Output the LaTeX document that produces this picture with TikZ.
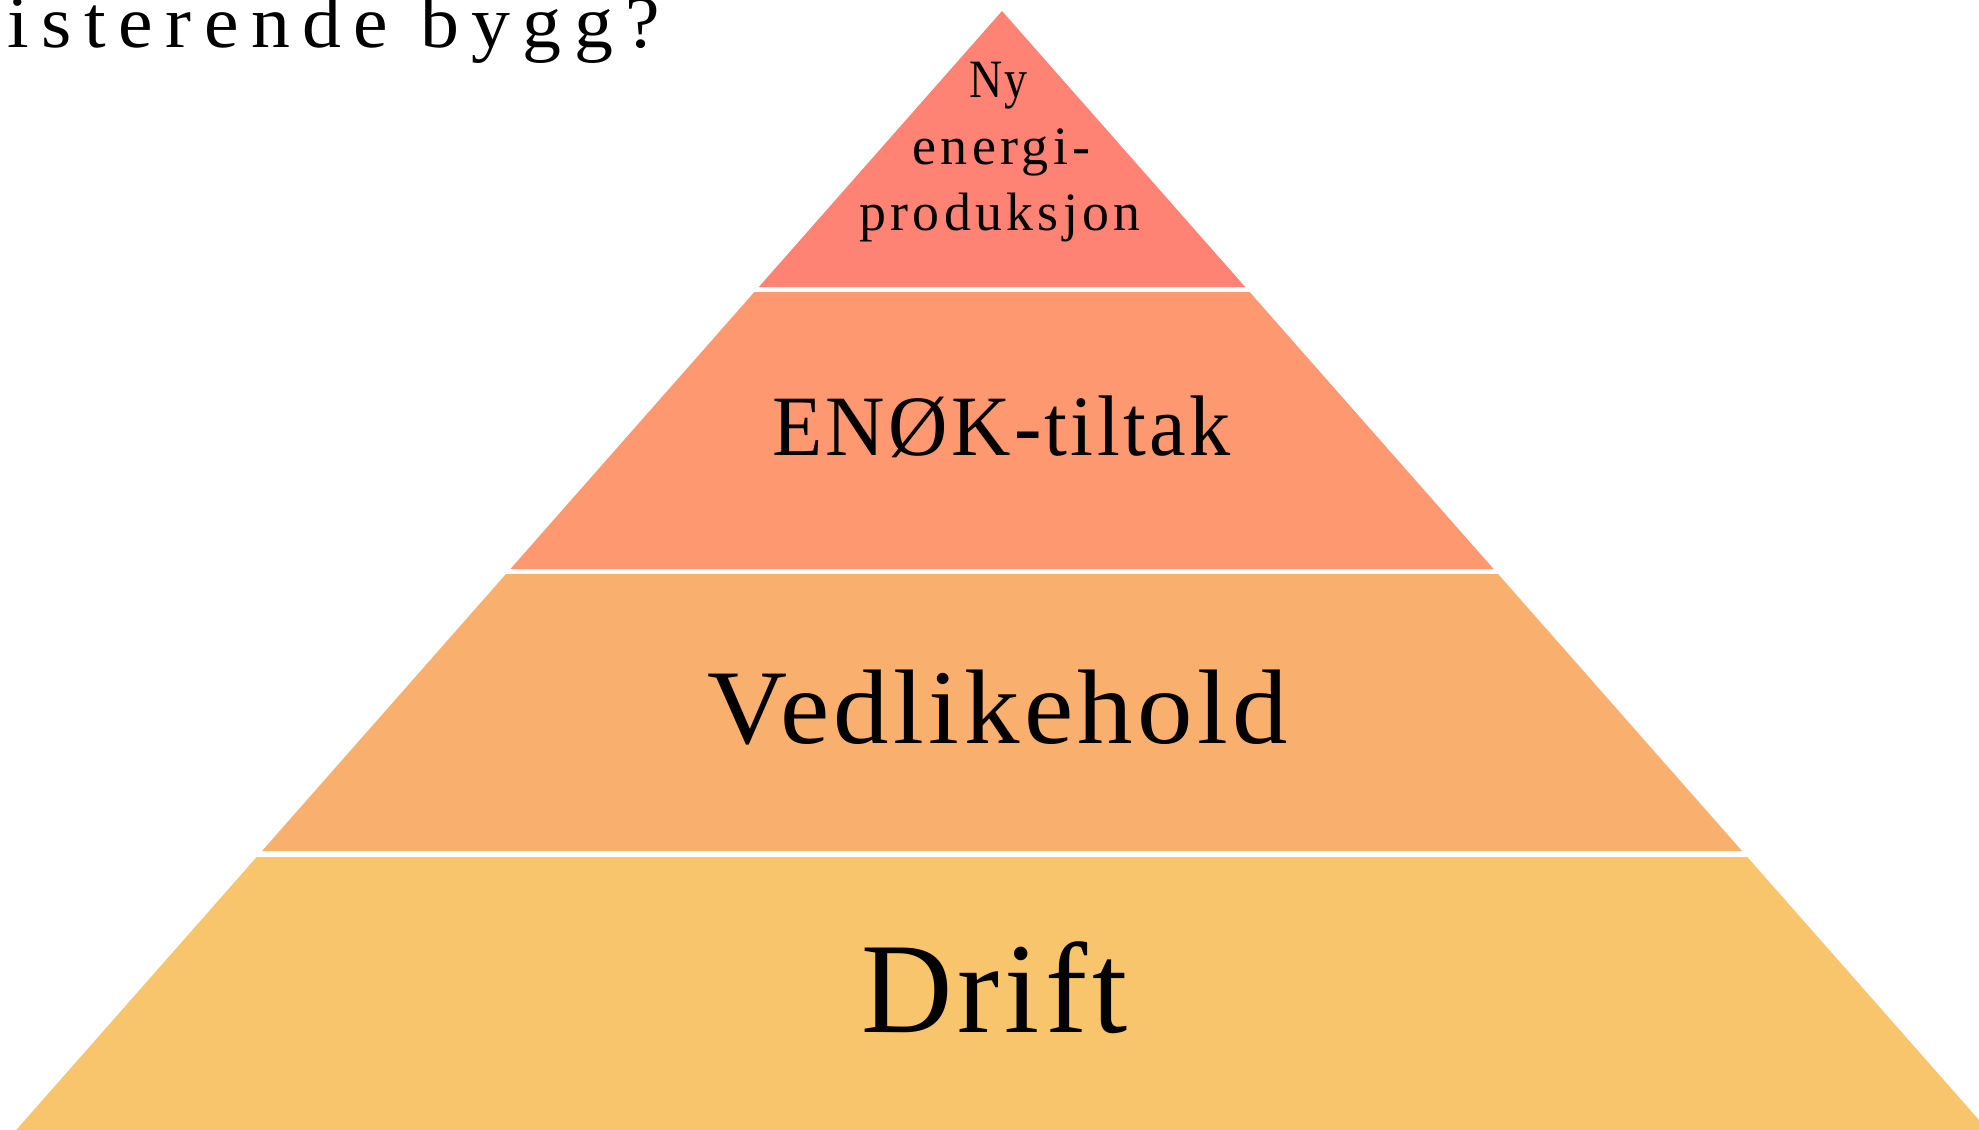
\documentclass[tikz,border=0pt]{standalone}
\usepackage{fontspec}
\usepackage{graphicx}
\setmainfont{Liberation Serif}
\newfontfamily\lsS[LetterSpace=4]{Liberation Serif}
\newfontfamily\lsM[LetterSpace=8]{Liberation Serif}
\newfontfamily\lsL[LetterSpace=12]{Liberation Serif}
\newfontfamily\lsXL[LetterSpace=16]{Liberation Serif}
\definecolor{cA}{RGB}{255,131,116}
\definecolor{cB}{RGB}{253,152,112}
\definecolor{cC}{RGB}{249,175,109}
\definecolor{cD}{RGB}{248,197,108}
\newcommand{\fitw}[3]{\resizebox{#1}{\height}{\fontsize{#2}{#2}\selectfont #3}}
\begin{document}
\begin{tikzpicture}[x=1pt,y=-1pt,
  lbl/.style={anchor=base, inner sep=0pt, outer sep=0pt, text=black}]
\useasboundingbox (0,0) rectangle (1979,1130);
\clip (0,0) rectangle (1979,1130);
\fill[white] (0,0) rectangle (1979,1130);
% pyramid layers
\fill[cA] (1002,11) -- (1245.2,287) -- (758.8,287) -- cycle;
\fill[cB] (754.4,292) -- (1249.6,292) -- (1493.6,569) -- (510.4,569) -- cycle;
\fill[cC] (506,574) -- (1498,574) -- (1742,851) -- (262,851) -- cycle;
\fill[cD] (256.7,857) -- (1747.3,857) -- (1987.8,1130) -- (16.2,1130) -- cycle;
% labels
\node[lbl] (ny) at (998.5,97) {\fitw{58pt}{54pt}{\lsS Ny}};
\node[lbl] (energi) at (1001.5,164) {\fitw{178pt}{54pt}{\lsM energi-}};
\node[lbl] (produksjon) at (1000,230) {\fitw{281pt}{54pt}{\lsM produksjon}};
\node[lbl] (enok) at (1001.5,455) {\fitw{458pt}{86pt}{\lsS ENØK-tiltak}};
\node[lbl] (vedlikehold) at (998,743) {\fitw{580pt}{106pt}{\lsS Vedlikehold}};
\node[lbl] (drift) at (994.5,1032) {\fitw{266pt}{129pt}{\lsS Drift}};
\node[lbl, anchor=base west] (question) at (8,47) {\fitw{652pt}{74pt}{\lsXL isterende bygg?}};
\end{tikzpicture}
\end{document}
